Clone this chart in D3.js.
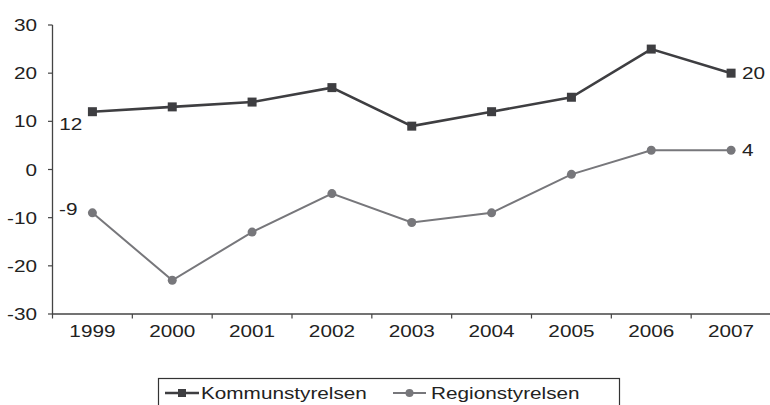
<!DOCTYPE html>
<html><head><meta charset="utf-8">
<script src="https://cdn.jsdelivr.net/npm/d3@7"></script>
<style>body{margin:0;background:#fff}svg{display:block}text{font-family:"Liberation Sans",Arial,sans-serif;fill:#222}</style>
</head><body>
<svg id="c" width="770" height="405"></svg>
<script>
const years = ["1999","2000","2001","2002","2003","2004","2005","2006","2007"];
const kommun = [12, 13, 14, 17, 9, 12, 15, 25, 20];
const region = [-9, -23, -13, -5, -11, -9, -1, 4, 4];
const yTicks = [30, 20, 10, 0, -10, -20, -30];
const seriesNames = ["Kommunstyrelsen", "Regionstyrelsen"];

const SX = 1.22, FS = 17;
const svg = d3.select("#c");
const x = d3.scaleBand().domain(years).range([52.5, 771]);
const y = d3.scaleLinear().domain([-30, 30]).range([314, 25]);
const axisCol = "#444";

function txt(g, tx, ty, s, anchor) {
  return g.append("text").attr("transform", `translate(${tx},${ty}) scale(${SX},1)`)
    .attr("text-anchor", anchor || "start").style("font-size", FS + "px").text(s);
}

// y axis
svg.append("line").attr("x1", 52.5).attr("x2", 52.5).attr("y1", y(30)).attr("y2", y(-30)).attr("stroke", axisCol).attr("stroke-width", 1.3);
yTicks.forEach(t => {
  svg.append("line").attr("x1", 48).attr("x2", 52.5).attr("y1", y(t)).attr("y2", y(t)).attr("stroke", axisCol).attr("stroke-width", 1.2);
  txt(svg, 37, y(t) + 6, String(t), "end");
});
// x axis
svg.append("line").attr("x1", 52.5).attr("x2", 771).attr("y1", y(-30)).attr("y2", y(-30)).attr("stroke", axisCol).attr("stroke-width", 1.3);
years.forEach((yr, i) => {
  const bx = x(yr);
  svg.append("line").attr("x1", bx).attr("x2", bx).attr("y1", 314).attr("y2", 318.5).attr("stroke", axisCol).attr("stroke-width", 1.2);
  txt(svg, bx + x.bandwidth() / 2, 337, yr, "middle");
});

const cx = d => x(d) + x.bandwidth() / 2;
const line = d3.line().x(d => cx(d[0])).y(d => y(d[1]));
const kCol = "#3e3e41", rCol = "#77777b";

const rData = years.map((yr, i) => [yr, region[i]]);
const kData = years.map((yr, i) => [yr, kommun[i]]);

svg.append("path").datum(rData).attr("d", line).attr("fill", "none").attr("stroke", rCol).attr("stroke-width", 2);
svg.selectAll(".rc").data(rData).enter().append("circle").attr("cx", d => cx(d[0])).attr("cy", d => y(d[1])).attr("r", 4.5).attr("fill", rCol);

svg.append("path").datum(kData).attr("d", line).attr("fill", "none").attr("stroke", kCol).attr("stroke-width", 2.6);
svg.selectAll(".ks").data(kData).enter().append("rect").attr("x", d => cx(d[0]) - 4.5).attr("y", d => y(d[1]) - 4.5).attr("width", 9).attr("height", 9).attr("fill", kCol);

// data labels
const n = years.length - 1;
txt(svg, cx(years[0]) - 10, y(kommun[0]) + 18, String(kommun[0]), "end");
txt(svg, cx(years[0]) - 15, y(region[0]) + 2, String(region[0]), "end");
txt(svg, cx(years[n]) + 11, y(kommun[n]) + 6, String(kommun[n]), "start");
txt(svg, cx(years[n]) + 11, y(region[n]) + 6, String(region[n]), "start");

// legend
svg.append("rect").attr("x", 158.5).attr("y", 378.5).attr("width", 461).attr("height", 40).attr("fill", "none").attr("stroke", "#333").attr("stroke-width", 1.2);
svg.append("line").attr("x1", 165).attr("x2", 199).attr("y1", 393).attr("y2", 393).attr("stroke", kCol).attr("stroke-width", 2.6);
svg.append("rect").attr("x", 178).attr("y", 389).attr("width", 8).attr("height", 8).attr("fill", kCol);
txt(svg, 201, 399, seriesNames[0], "start");
svg.append("line").attr("x1", 393).attr("x2", 426).attr("y1", 393).attr("y2", 393).attr("stroke", rCol).attr("stroke-width", 2);
svg.append("circle").attr("cx", 409.5).attr("cy", 393).attr("r", 4).attr("fill", rCol);
txt(svg, 431, 399, seriesNames[1], "start");
</script>
</body></html>
